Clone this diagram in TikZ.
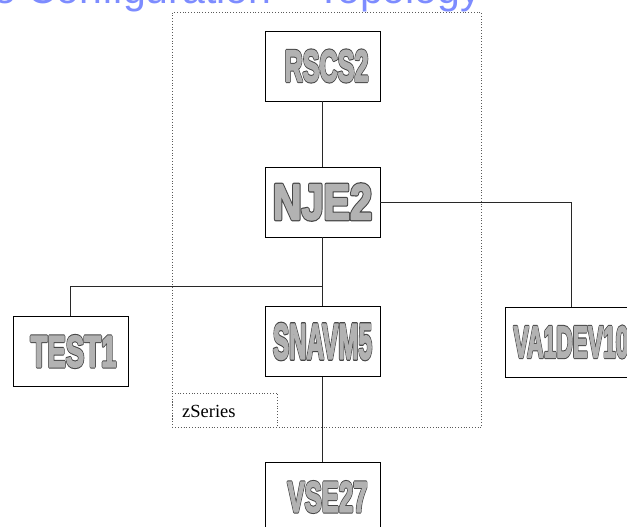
\documentclass[tikz,border=0pt]{standalone}
\usepackage{fontspec}
\usepackage{graphicx}
\newfontfamily\wafont{Liberation Sans}
\newfontfamily\titlefont{Liberation Sans}
\newfontfamily\zfont{Liberation Serif}
\definecolor{titleblue}{RGB}{125,140,255}
\definecolor{linegray}{RGB}{40,40,40}
\definecolor{dotgray}{RGB}{90,90,90}
\newcommand{\wordart}[3]{\resizebox{#2pt}{#3pt}{\wafont\bfseries\fontsize{40}{40}\selectfont\rlap{\special{pdf:literal direct 0.28 G 3.4 w 1 j 1 Tr}#1}\special{pdf:literal direct 0.7 g 0.7 G 1.5 w 1 j 2 Tr}#1\special{pdf:literal direct 0 Tr 0 g 0 G}}}
\begin{document}
\begin{tikzpicture}[x=1pt,y=-1pt,
  box/.style={draw=black,line width=0.9pt,fill=white,inner sep=0pt,minimum width=115pt,minimum height=70pt},
  conn/.style={draw=linegray,line width=0.9pt},
  dotbox/.style={draw=dotgray,line width=0.8pt,dotted,inner sep=0pt}]
\useasboundingbox (0,0) rectangle (627,527);
\node[anchor=base west,inner sep=0pt,text=titleblue,font=\titlefont\fontsize{41}{41}\selectfont] (title) at (-7,4) {e Configuration – Topology};
\node[dotbox,minimum width=309pt,minimum height=415pt,anchor=north west] (zser) at (172,12) {};
\node[dotbox,minimum width=105pt,minimum height=34pt,anchor=north west] (zlab) at (172,393) {};
\node[anchor=base west,inner sep=0pt,font=\zfont\fontsize{18.5}{20}\selectfont] (ztext) at (182,417) {zSeries};
\node[box] (rscs) at (322.5,66) {\hspace*{8pt}\wordart{RSCS2}{84}{31}};
\node[box] (nje) at (322.5,202) {\wordart{NJE2}{99}{35}};
\node[box] (test) at (70.5,351.5) {\hspace*{6pt}\wordart{TEST1}{86}{31}};
\node[box] (snavm) at (322.5,341.5) {\wordart{SNAVM5}{99}{35}};
\node[box,minimum width=132pt] (va) at (571,342) {\wordart{VA1DEV10}{115}{31}};
\node[box] (vse) at (322.5,497) {\hspace*{10pt}\wordart{VSE27}{80}{30}};
\coordinate (jn) at (322.5,286);
\coordinate (jt) at (70.5,286);
\draw[conn] (rscs.south) -- (nje.north);
\draw[conn] (nje.south) -- (snavm.north);
\draw[conn] (jn) -- (jt) -- (test.north);
\draw[conn] (nje.east) -| (va.north);
\draw[conn] (snavm.south) -- (vse.north);
\end{tikzpicture}
\end{document}
